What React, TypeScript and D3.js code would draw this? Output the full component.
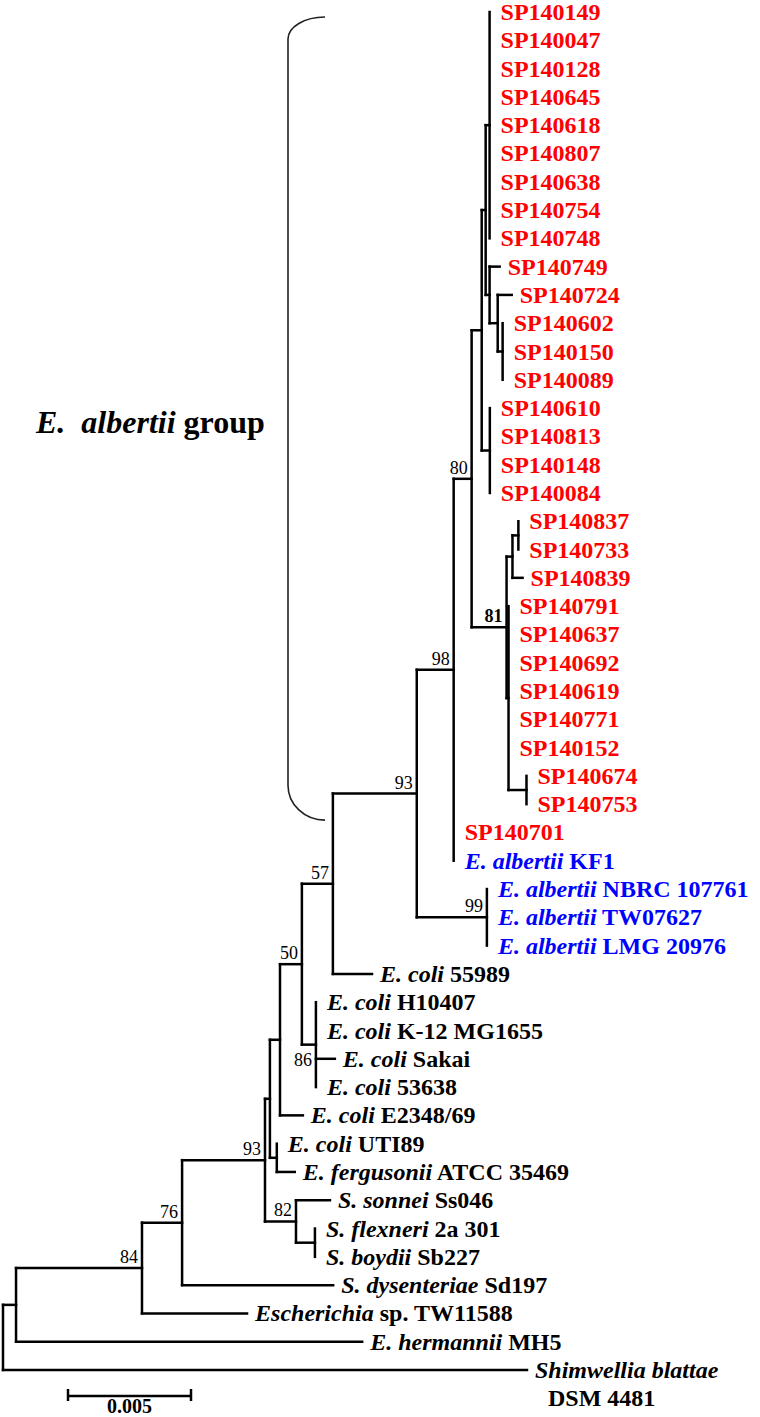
import React from 'react';
import * as d3 from 'd3';

// ---------------- DATA ----------------
// Sub-clades in Newick form (branch lengths in substitutions/site, internal labels = bootstrap)
const cladeA = "(SP140149:0,SP140047:0,SP140128:0,SP140645:0,SP140618:0,SP140807:0,SP140638:0,SP140754:0,SP140748:0):0.00016";
const cladeE = "(SP140602:0,SP140150:0,SP140089:0):0.0002";
const cladeD = `(SP140724:0.00057,${cladeE}):0.00033`;
const cladeC = `(SP140749:0.00041,${cladeD}):0.00016`;
const cladeB = `(${cladeA},${cladeC}):0.00016`;
const cladeF = "(SP140610:0,SP140813:0,SP140148:0,SP140084:0):0.00033";
const cladeTop = `(${cladeB},${cladeF}):0.00041`;
const cladeK = "(SP140837:0,SP140733:0):0.00024";
const cladeI = `(${cladeK},SP140839:0.00041):0.00024`;
const cladeH = "(SP140674:0,SP140753:0):0.00073";
const cladeJ = `(SP140791:0,SP140637:0,SP140692:0,SP140619:0,SP140771:0,SP140152:0,${cladeH}):0.00008`;
const clade81 = `(${cladeI},${cladeJ})81:0.00142`;
const clade80 = `(${cladeTop},${clade81})80:0.00073`;
const clade98 = `(${clade80},SP140701:0,KF1:0)98:0.0015`;
const clade99 = "(NBRC107761:0,TW07627:0,LMG20976:0)99:0.00285";
const clade93a = `(${clade98},${clade99})93:0.00341`;
const clade57 = `(${clade93a},EC55989:0.00159)57:0.00126`;
const clade86 = "(H10407:0,K12MG1655:0,Sakai:0.00077,EC53638:0)86:0.00057";
const clade50 = `(${clade57},${clade86})50:0.00089`;
const cladeEc = `(${clade50},E2348:0.00093):0.00041`;
const cladeUF = "(UTI89:0,ATCC35469:0.00073):0.00028";
const cladeEcF = `(${cladeEc},${cladeUF}):0.0002`;
const cladeFB = "(Sf2a301:0,Sb227:0):0.00077";
const clade82 = `(Ss046:0.00138,${cladeFB})82:0.00126`;
const clade93b = `(${cladeEcF},${clade82})93:0.00337`;
const clade76 = `(${clade93b},Sd197:0.00614)76:0.00163`;
const clade84 = `(${clade76},TW11588:0.00427)84:0.00512`;
const cladeIn = `(${clade84},MH5:0.01407):0.00053`;
const treeNewick = `(${cladeIn},DSM4481:0.0213);`;

const spIsolates = [
  "SP140149", "SP140047", "SP140128", "SP140645", "SP140618", "SP140807", "SP140638",
  "SP140754", "SP140748", "SP140749", "SP140724", "SP140602", "SP140150", "SP140089",
  "SP140610", "SP140813", "SP140148", "SP140084", "SP140837", "SP140733", "SP140839",
  "SP140791", "SP140637", "SP140692", "SP140619", "SP140771", "SP140152", "SP140674",
  "SP140753", "SP140701",
];

const albertiiRefs: [string, string, string][] = [
  ["KF1", "E. albertii", "KF1"],
  ["NBRC107761", "E. albertii", "NBRC 107761"],
  ["TW07627", "E. albertii", "TW07627"],
  ["LMG20976", "E. albertii", "LMG 20976"],
];

const otherRefs: [string, string, string][] = [
  ["EC55989", "E. coli", "55989"],
  ["H10407", "E. coli", "H10407"],
  ["K12MG1655", "E. coli", "K-12 MG1655"],
  ["Sakai", "E. coli", "Sakai"],
  ["EC53638", "E. coli", "53638"],
  ["E2348", "E. coli", "E2348/69"],
  ["UTI89", "E. coli", "UTI89"],
  ["ATCC35469", "E. fergusonii", "ATCC 35469"],
  ["Ss046", "S. sonnei", "Ss046"],
  ["Sf2a301", "S. flexneri", "2a 301"],
  ["Sb227", "S. boydii", "Sb227"],
  ["Sd197", "S. dysenteriae", "Sd197"],
  ["TW11588", "Escherichia", "sp. TW11588"],
  ["MH5", "E. hermannii", "MH5"],
  ["DSM4481", "Shimwellia blattae", "DSM 4481"],
];

const scaleBarValue = 0.005;
const groupLabel = ["E.", "albertii", "group"];

// ---------------- PARSER / LAYOUT ----------------
type TNode = { name: string; length: number; children: TNode[]; x: number; y: number; depth: number };

function parseNewick(s: string): TNode {
  let i = 0;
  function node(): TNode {
    const n: TNode = { name: "", length: 0, children: [], x: 0, y: 0, depth: 0 };
    if (s[i] === "(") {
      i++;
      n.children.push(node());
      while (s[i] === ",") { i++; n.children.push(node()); }
      i++; // ')'
    }
    let name = "";
    while (i < s.length && !",():;".includes(s[i])) name += s[i++];
    n.name = name;
    if (s[i] === ":") {
      i++;
      let num = "";
      while (i < s.length && !",();".includes(s[i])) num += s[i++];
      n.length = parseFloat(num);
    }
    return n;
  }
  return node();
}

const FONT = "'Liberation Serif', 'Times New Roman', Times, serif";
const RED = "#ff0000";
const BLUE = "#0000ff";

export default function App() {
  const root = parseNewick(treeNewick);
  const leaves: TNode[] = [];
  (function walk(n: TNode, d: number) {
    n.depth = d;
    if (!n.children.length) leaves.push(n);
    n.children.forEach(c => walk(c, d + c.length));
  })(root, 0);

  const xScale = d3.scaleLinear().domain([0, scaleBarValue]).range([3, 126]);
  const yScale = d3.scaleLinear().domain([0, leaves.length - 1]).range([12, 1370]);

  leaves.forEach((l, i) => { l.y = yScale(i); });
  (function place(n: TNode) {
    n.x = xScale(n.depth);
    if (n.children.length) {
      n.children.forEach(place);
      n.y = (n.children[0].y + n.children[n.children.length - 1].y) / 2;
    }
  })(root);

  const internals: TNode[] = [];
  (function coll(n: TNode) { if (n.children.length) { internals.push(n); n.children.forEach(coll); } })(root);

  const labelMap = new Map<string, { it: string; rm: string; color: string }>();
  spIsolates.forEach(s => labelMap.set(s, { it: "", rm: s, color: RED }));
  albertiiRefs.forEach(([k, it, rm]) => labelMap.set(k, { it, rm, color: BLUE }));
  otherRefs.forEach(([k, it, rm]) => labelMap.set(k, { it, rm, color: "#000" }));

  const lines: JSX.Element[] = [];
  internals.forEach((n, idx) => {
    const c0 = n.children[0], c1 = n.children[n.children.length - 1];
    lines.push(<line key={`v${idx}`} x1={n.x} x2={n.x} y1={c0.y} y2={c1.y} />);
    n.children.forEach((c, j) => {
      if (c.x - n.x > 0.5) lines.push(<line key={`h${idx}-${j}`} x1={n.x} x2={c.x} y1={c.y} y2={c.y} />);
    });
  });

  const yOf = (k: string) => leaves.find(l => l.name === k)!.y;
  const brTop = yOf(spIsolates[0]) + 5;
  const brBot = yOf("SP140753") + 16;
  const brL = 288, brR = 325;

  const barX0 = 68;
  const barX1 = barX0 + (xScale(scaleBarValue) - xScale(0));
  const barY = 1396;

  return (
    <svg width={760} height={1417} style={{ position: "absolute", left: 0, top: 0, background: "#fff" }}
      fontFamily={FONT}>
      <rect x={0} y={0} width={760} height={1417} fill="#fff" />
      <g stroke="#000" strokeWidth={2.5} strokeLinecap="square">{lines}</g>

      {internals.filter(n => n.name).map((n, i) => {
        const below = n.name === "86" && n.x < 320;
        return (
          <text key={`b${i}`} x={n.x - 4} y={below ? n.y + 21 : n.y - 5} textAnchor="end"
            fontSize={18} fontWeight={n.name === "81" ? "bold" : "normal"} fill="#000">{n.name}</text>
        );
      })}

      {leaves.map((l, i) => {
        const info = labelMap.get(l.name)!;
        const tx = l.x + (l.length > 0 ? 8 : 11);
        const ty = l.y + 8;
        if (l.name === "DSM4481") {
          return (
            <g key={`l${i}`} fontWeight="bold" fontSize={24} fill="#000">
              <text x={tx} y={ty} fontStyle="italic">{info.it}</text>
              <text x={tx + 13} y={ty + 28}>{info.rm}</text>
            </g>
          );
        }
        return (
          <text key={`l${i}`} x={tx} y={ty} fontSize={24} fontWeight="bold" fill={info.color}>
            {info.it ? <tspan fontStyle="italic">{info.it}</tspan> : null}
            <tspan>{(info.it ? " " : "") + info.rm}</tspan>
          </text>
        );
      })}

      <path d={`M${brR},${brTop} A${brR - brL},22 0 0 0 ${brL},${brTop + 22} L${brL},${brBot - 35} A${brR - brL},35 0 0 0 ${brR},${brBot}`}
        fill="none" stroke="#222" strokeWidth={1.6} />

      <text x={36} y={433} fontSize={32} fontWeight="bold" fill="#000">
        <tspan fontStyle="italic">{groupLabel[0]}</tspan>
        <tspan dx={16} fontStyle="italic">{groupLabel[1]}</tspan>
        <tspan>{" " + groupLabel[2]}</tspan>
      </text>

      <g stroke="#000" strokeWidth={2.5}>
        <line x1={barX0} x2={barX1} y1={barY} y2={barY} />
        <line x1={barX0} x2={barX0} y1={barY - 7} y2={barY + 5} />
        <line x1={barX1} x2={barX1} y1={barY - 7} y2={barY + 5} />
      </g>
      <text x={(barX0 + barX1) / 2} y={1413} textAnchor="middle" fontSize={20} fontWeight="bold">{String(scaleBarValue)}</text>
    </svg>
  );
}
